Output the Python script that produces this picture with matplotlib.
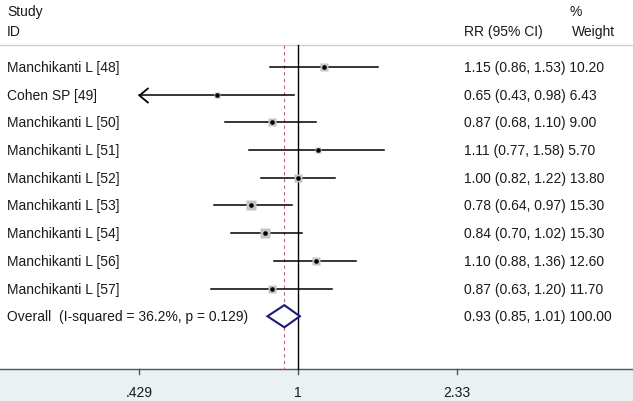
import matplotlib.pyplot as plt
from matplotlib.path import Path
from matplotlib.transforms import blended_transform_factory
import numpy as np

plt.rcParams['font.family'] = ['Liberation Sans', 'DejaVu Sans']

studies = ['Manchikanti L [48]', 'Cohen SP [49]', 'Manchikanti L [50]',
           'Manchikanti L [51]', 'Manchikanti L [52]', 'Manchikanti L [53]',
           'Manchikanti L [54]', 'Manchikanti L [56]', 'Manchikanti L [57]']
rr = [1.15, 0.65, 0.87, 1.11, 1.00, 0.78, 0.84, 1.10, 0.87]
lo = [0.86, 0.43, 0.68, 0.77, 0.82, 0.64, 0.70, 0.88, 0.63]
hi = [1.53, 0.98, 1.10, 1.58, 1.22, 0.97, 1.02, 1.36, 1.20]
weight = [10.20, 6.43, 9.00, 5.70, 13.80, 15.30, 15.30, 12.60, 11.70]
overall_label = 'Overall  (I-squared = 36.2%, p = 0.129)'
overall = (0.93, 0.85, 1.01)
ticks = [0.429, 1, 2.33]
tick_labels = ['.429', '1', '2.33']

fig = plt.figure(figsize=(6.33, 4.02), dpi=100)
ax = fig.add_axes([0, 0, 1, 1])
ax.set_xscale('log')
# 1 at x=298px, 188 px per ln unit
ax.set_xlim(np.exp(-298 / 188), np.exp((633 - 298) / 188))
ax.set_ylim(12.06, -2.455)
ax.axis('off')
tr = blended_transform_factory(ax.transAxes, ax.transData)

# CIs reaching the lower tick (0.43 rounded) are cut and get an arrow
xmin, xmax = round(ticks[0], 2), ticks[-1]
n = len(studies)
fs = 10
txt = '#1a1a1a'

# open "<" arrow head, tip at marker origin
chevron = Path([(1.2, 1), (0, 0), (1.2, -1)], [Path.MOVETO, Path.LINETO, Path.LINETO])

# header
ax.text(0.011, -2.03, 'Study', transform=tr, fontsize=fs, va='center', color=txt)
ax.text(0.011, -1.31, 'ID', transform=tr, fontsize=fs, va='center', color=txt)
ax.text(0.733, -1.31, 'RR (95% CI)', transform=tr, fontsize=fs, va='center', color=txt)
ax.text(0.9, -2.03, '%', transform=tr, fontsize=fs, va='center', color=txt)
ax.text(0.904, -1.31, 'Weight', transform=tr, fontsize=fs, va='center', color=txt)
ax.plot([0, 1], [-0.79, -0.79], transform=tr, color='#d0d0d0', lw=1)

# bottom band and axis
ax.fill_between([0, 1], 10.9, 12.06, transform=tr, color='#eaf1f3', lw=0)
ax.plot([0, 1], [10.9, 10.9], transform=tr, color='#555555', lw=1)
for t, lab in zip(ticks, tick_labels):
    ax.plot([t, t], [10.9, 11.07], color='#555555', lw=1)
    ax.text(t, 11.75, lab, fontsize=fs, ha='center', va='center', color=txt)

# reference lines
ax.plot([1, 1], [-0.79, 10.9], color='black', lw=1)
ax.plot([overall[0]] * 2, [-0.79, 8.6], color='#c06070', lw=0.8, ls=(0, (3, 3)))
ax.plot([overall[0]] * 2, [9.4, 10.9], color='#c06070', lw=0.8, ls=(0, (3, 3)))

for i in range(n):
    ax.text(0.011, i, studies[i], transform=tr, fontsize=fs, va='center', color=txt)
    ax.text(0.733, i, '%.2f (%.2f, %.2f) %.2f' % (rr[i], lo[i], hi[i], weight[i]),
            transform=tr, fontsize=fs, va='center', color=txt)
    l, h = max(lo[i], xmin), min(hi[i], xmax)
    ax.plot([l, h], [i, i], color='black', lw=1.1)
    if lo[i] <= xmin:
        ax.plot(l, i, marker=chevron, ms=13, mfc='none', mec='black', mew=1.3)
    ax.plot(rr[i], i, marker='s', ms=1.7 * np.sqrt(weight[i]), color='#c4c4c4',
            mec='none', zorder=3)
    ax.plot(rr[i], i, marker='o', ms=2.3, color='black', zorder=4)

# overall diamond
est, dl, dh = overall
ax.fill([dl, est, dh, est, dl], [n, n - 0.4, n, n + 0.4, n],
        facecolor='white', edgecolor='#1a1a7a', lw=1.5, zorder=5)
ax.text(0.011, n, overall_label, transform=tr, fontsize=fs, va='center', color=txt)
ax.text(0.733, n, '%.2f (%.2f, %.2f) %.2f' % (est, dl, dh, 100.0),
        transform=tr, fontsize=fs, va='center', color=txt)

fig.savefig('out.png', dpi=100)
